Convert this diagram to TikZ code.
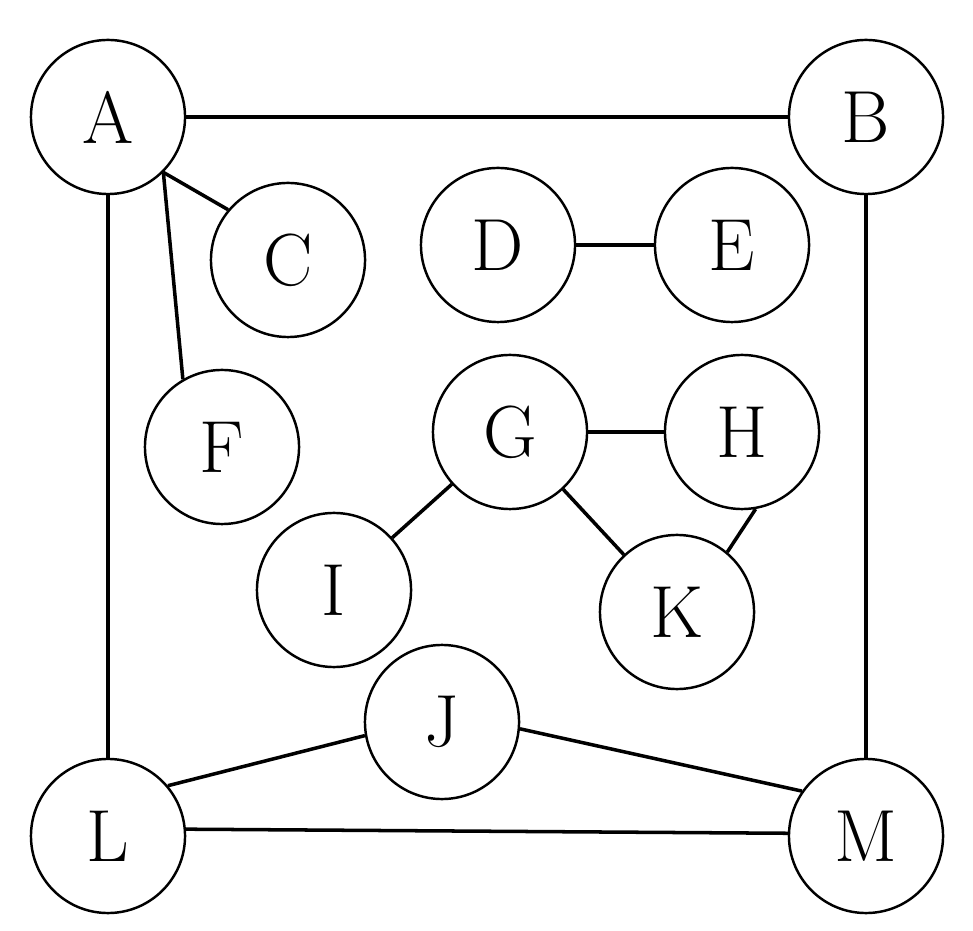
\documentclass[tikz,border=0pt]{standalone}
\usepackage{tikz}

\begin{document}
\begin{tikzpicture}[x=0.01cm, y=-0.01cm]
\tikzset{vertex/.style={draw, circle, line width=0.7pt, minimum size=1.54cm, inner sep=0pt, font=\fontsize{21}{24}\selectfont}}
\useasboundingbox (0,0) rectangle (973,931);

\node[vertex] (A) at (108,117) {A};
\node[vertex] (B) at (866,117) {B};
\node[vertex] (C) at (288,260) {C};
\node[vertex] (D) at (498,245) {D};
\node[vertex] (E) at (732,245) {E};
\node[vertex] (F) at (222,447) {F};
\node[vertex] (G) at (510,432) {G};
\node[vertex] (H) at (742,432) {H};
\node[vertex] (I) at (334,590) {I};
\node[vertex] (K) at (677,612) {K};
\node[vertex] (J) at (442,722) {J};
\node[vertex] (L) at (108,836) {L};
\node[vertex] (M) at (866,836) {M};

\begin{scope}[line width=1pt]
\draw (A) -- (B);
\draw (A.south) -- (L.north);
\draw (B.south) -- (M.north);
\draw (A.-45) -- (C.140);
\draw (A.-45) -- (F.120);
\draw (D) -- (E);
\draw (G) -- (H);
\draw (G) -- (I);
\draw (G) -- (K);
\draw (H.-80) -- (K.50);
\draw (L.40) -- (J.190);
\draw (J.-5) -- (M.145);
\draw (L.5) -- (M.178);
\end{scope}

\end{tikzpicture}
\end{document}
